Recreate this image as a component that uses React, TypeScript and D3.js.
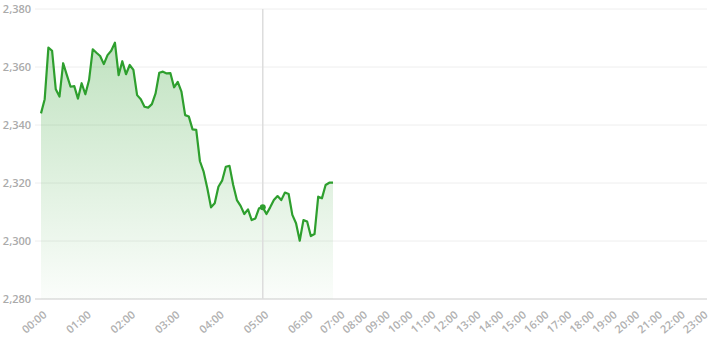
import React from 'react';
import * as d3 from 'd3';

// 5-minute prices from 00:00
const prices = [
  2344.0, 2348.9, 2366.7, 2365.6, 2352.3, 2349.8, 2361.3, 2357.2, 2353.2, 2353.4,
  2349.1, 2354.4, 2350.6, 2355.5, 2366.1, 2364.9, 2363.8, 2361.0, 2364.1, 2365.6,
  2368.4, 2357.2, 2362.0, 2357.5, 2360.7, 2359.0, 2350.3, 2348.9, 2346.3, 2346.0,
  2347.2, 2350.9, 2358.0, 2358.4, 2357.8, 2357.9, 2353.0, 2354.9, 2351.5, 2343.4,
  2342.9, 2338.5, 2338.3, 2327.5, 2323.9, 2318.2, 2311.6, 2313.0, 2318.7, 2320.8,
  2325.6, 2325.9, 2319.3, 2314.1, 2312.1, 2309.3, 2310.9, 2307.2, 2307.8, 2311.3,
  2311.6, 2309.3, 2311.6, 2314.1, 2315.5, 2314.1, 2316.7, 2316.2, 2309.0, 2306.1,
  2300.1, 2307.2, 2306.7, 2301.7, 2302.4, 2315.3, 2314.7, 2319.3, 2320.1, 2320.1,
];
const stepMinutes = 5;
const hourLabels = d3.range(24).map((h) => `${String(h).padStart(2, '0')}:00`);
const yTicks = [2280, 2300, 2320, 2340, 2360, 2380];
const hoverIndex = 60;

const FONT = '"Open Sans", "Noto Sans", sans-serif';

export default function App() {
  const W = 718;
  const H = 340;
  const gridLeft = 35;
  const gridRight = 707;
  const top = 9;
  const bottom = 299;

  const lastMinute = (prices.length - 1) * stepMinutes;
  const x = d3
    .scaleLinear()
    .domain([0, lastMinute, 420, 1380])
    .range([41, 333, 339, 702]);
  const y = d3.scaleLinear().domain([2280, 2380]).range([bottom, top]);

  const pts = prices.map((v, i) => ({ m: i * stepMinutes, v }));
  const line = d3
    .line<{ m: number; v: number }>()
    .x((d) => x(d.m))
    .y((d) => y(d.v));
  const area = d3
    .area<{ m: number; v: number }>()
    .x((d) => x(d.m))
    .y0(bottom)
    .y1((d) => y(d.v));

  const hover = pts[hoverIndex];

  return (
    <svg width={W} height={H} style={{ display: 'block', position: 'absolute', left: 0, top: 0 }}>
      <defs>
        <linearGradient id="areaGrad" x1="0" y1="0" x2="0" y2="1" gradientUnits="objectBoundingBox">
          <stop offset="0%" stopColor="rgb(46,160,46)" stopOpacity={0.3} />
          <stop offset="100%" stopColor="rgb(46,160,46)" stopOpacity={0.02} />
        </linearGradient>
      </defs>
      {yTicks.map((t, i) => (
        <g key={t}>
          <line
            x1={gridLeft}
            x2={gridRight}
            y1={y(t)}
            y2={y(t)}
            stroke={i === 0 ? '#cccccc' : '#eeeeee'}
            strokeWidth={1}
          />
          <text
            x={31}
            y={y(t)}
            dy="0.35em"
            textAnchor="end"
            fontFamily={FONT}
            fontSize={11}
            fontWeight={600}
            fill="#aaaaaa"
          >
            {d3.format(',')(t)}
          </text>
        </g>
      ))}
      <path d={area(pts) || ''} fill="url(#areaGrad)" />
      <line x1={x(hover.m)} x2={x(hover.m)} y1={top} y2={bottom} stroke="#dddddd" strokeWidth={1.5} />
      <path d={line(pts) || ''} fill="none" stroke="#2e9f2e" strokeWidth={2.2} strokeLinejoin="round" />
      <circle cx={x(hover.m)} cy={y(hover.v)} r={3} fill="#2e9f2e" />
      {hourLabels.map((lab, h) => (
        <text
          key={lab}
          transform={`translate(${x(h * 60) + 4},${313}) rotate(-40)`}
          dy="0.35em"
          textAnchor="end"
          fontFamily={FONT}
          fontSize={11}
          fontWeight={600}
          fill="#b0b0b0"
        >
          {lab}
        </text>
      ))}
    </svg>
  );
}
